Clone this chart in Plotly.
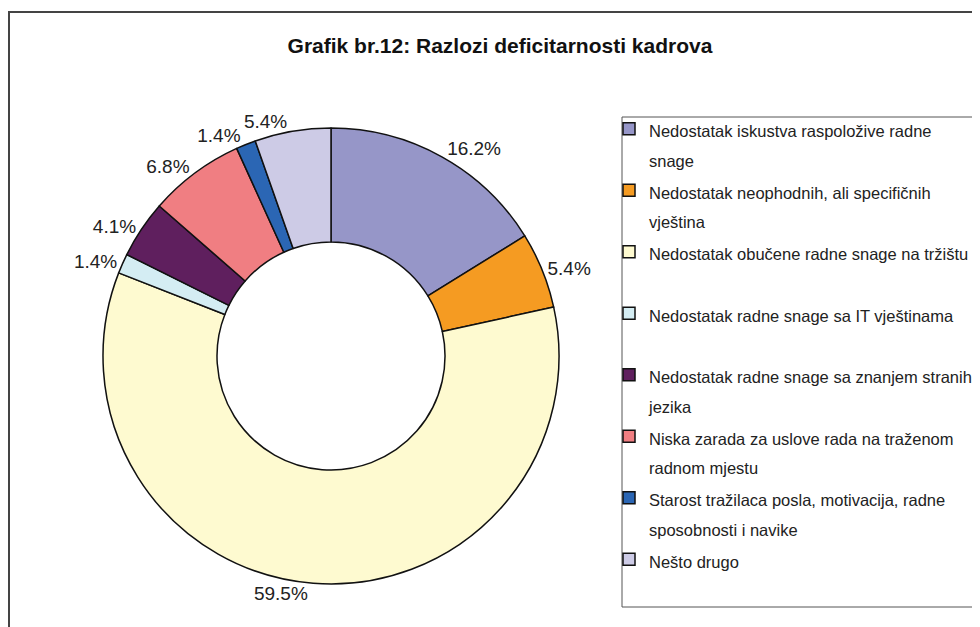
import plotly.graph_objects as go

title_text = "Grafik br.12: Razlozi deficitarnosti kadrova"

categories = [
    ["Nedostatak iskustva raspoložive radne", "snage"],
    ["Nedostatak neophodnih, ali specifičnih", "vještina"],
    ["Nedostatak obučene radne snage na tržištu", " "],
    ["Nedostatak radne snage sa IT vještinama", " "],
    ["Nedostatak radne snage sa znanjem stranih", "jezika"],
    ["Niska zarada za uslove rada na traženom", "radnom mjestu"],
    ["Starost tražilaca posla, motivacija, radne", "sposobnosti i navike"],
    ["Nešto drugo", " "],
]
values = [16.2, 5.4, 59.5, 1.4, 4.1, 6.8, 1.4, 5.4]
colors = ["#9696C8", "#F59B22", "#FEFAD0", "#D4EDF3", "#5F1F5E",
          "#F07E82", "#2B66B4", "#CDCBE6"]

# labels drawn by a second (transparent) pie so plotly doesn't push them with leader lines
split_label = [False, False, False, False, False, False, False, True]

FONT = "Liberation Sans, Arial, sans-serif"
W, H = 980, 627
OFF = 8  # page body margin


def px(x):
    return (x - OFF) / W


def py(y):
    return 1 - (y - OFF) / H


def legend_label(lines):
    return "<br>".join('<span style="font-size:16.5px">%s</span>' % l for l in lines)


labels = [legend_label(c) for c in categories]
domain = dict(x=[px(103), px(559)], y=[py(584), py(128)])
label_font = dict(family=FONT, size=19, color="#222222")

fig = go.Figure()
fig.add_trace(
    go.Pie(
        labels=labels,
        values=values,
        hole=0.5,
        sort=False,
        direction="clockwise",
        rotation=0,
        marker=dict(colors=colors, line=dict(color="#111111", width=1.5)),
        texttemplate="%{value:.1f}%",
        textposition=["none" if s else "outside" for s in split_label],
        textfont=label_font,
        hoverinfo="label+value",
        domain=domain,
        showlegend=True,
    )
)
fig.add_trace(
    go.Pie(
        labels=labels,
        values=values,
        hole=0.5,
        sort=False,
        direction="clockwise",
        rotation=0,
        marker=dict(colors=["rgba(0,0,0,0)"] * len(values), line=dict(width=0)),
        texttemplate="%{value:.1f}%",
        textposition=["outside" if s else "none" for s in split_label],
        textfont=label_font,
        hoverinfo="skip",
        domain=domain,
        showlegend=False,
    )
)

fig.update_layout(
    width=W,
    height=H,
    margin=dict(l=0, r=0, t=0, b=0, autoexpand=False),
    paper_bgcolor="white",
    plot_bgcolor="white",
    font=dict(family=FONT, color="#222222"),
    title=dict(
        text="<b>%s</b>" % title_text,
        x=px(500), y=py(46), xanchor="center", yanchor="middle",
        font=dict(family=FONT, size=21, color="#111111"),
    ),
    showlegend=True,
    legend=dict(
        x=px(609), y=py(107.5), xanchor="left", yanchor="top",
        font=dict(family=FONT, size=22.5, color="#222222"),
        bgcolor="rgba(0,0,0,0)", borderwidth=0,
        valign="top", traceorder="normal",
    ),
    shapes=[
        dict(type="rect", xref="paper", yref="paper",
             x0=px(9), x1=1.05, y0=-0.05, y1=py(12),
             line=dict(color="#444444", width=2), fillcolor="rgba(0,0,0,0)", layer="below"),
        dict(type="rect", xref="paper", yref="paper",
             x0=px(622), x1=1.05, y0=py(607), y1=py(117),
             line=dict(color="#555555", width=1), fillcolor="rgba(0,0,0,0)", layer="below"),
    ],
)

fig.write_html("out.html")
